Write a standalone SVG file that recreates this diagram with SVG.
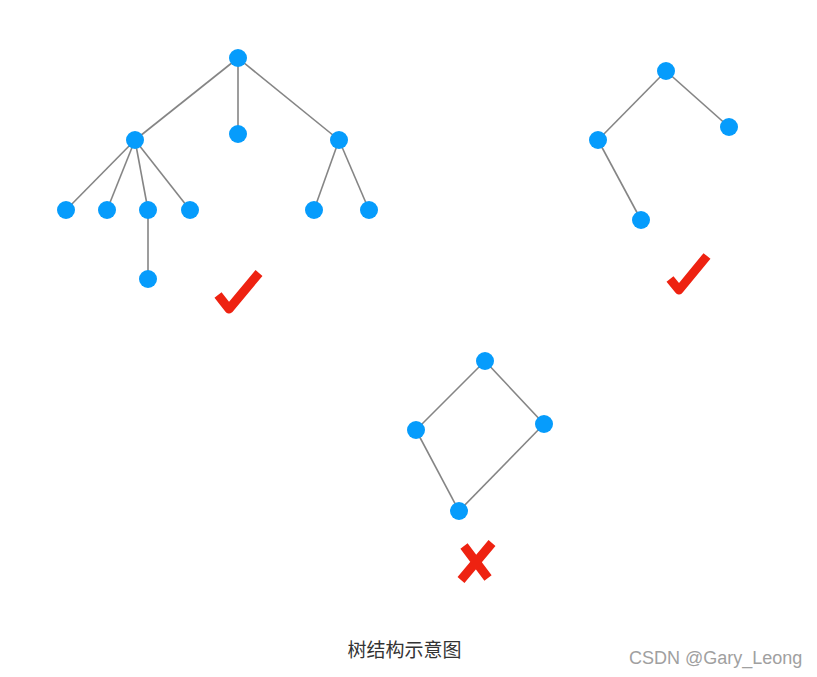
<svg xmlns="http://www.w3.org/2000/svg" width="817" height="677" viewBox="0 0 817 677">
<style>
.edge{stroke:#858585;stroke-width:1.6;fill:none}
.node{fill:#069cfc}
.mark{stroke:#ee2211;stroke-width:9;fill:none;stroke-linecap:butt;stroke-linejoin:round}
.caption{font-family:"Liberation Sans","Noto Sans CJK SC",sans-serif;font-size:19px;fill:#333}
.wm{font-family:"Liberation Sans",Arial,sans-serif;font-size:18px;fill:#a0a0a0}
</style>
<rect width="817" height="677" fill="#fff"/>
<g id="connectors">
<line class="edge" x1="238" y1="58" x2="135" y2="140"/>
<line class="edge" x1="238" y1="58" x2="238" y2="134"/>
<line class="edge" x1="238" y1="58" x2="339" y2="140"/>
<line class="edge" x1="135" y1="140" x2="66" y2="210"/>
<line class="edge" x1="135" y1="140" x2="107" y2="210"/>
<line class="edge" x1="135" y1="140" x2="148" y2="210"/>
<line class="edge" x1="135" y1="140" x2="190" y2="210"/>
<line class="edge" x1="148" y1="210" x2="148" y2="279"/>
<line class="edge" x1="339" y1="140" x2="314" y2="210"/>
<line class="edge" x1="339" y1="140" x2="369" y2="210"/>
<line class="edge" x1="666" y1="71" x2="598" y2="140"/>
<line class="edge" x1="666" y1="71" x2="729" y2="127"/>
<line class="edge" x1="598" y1="140" x2="641" y2="220"/>
<line class="edge" x1="485" y1="361" x2="416" y2="430"/>
<line class="edge" x1="485" y1="361" x2="544" y2="424"/>
<line class="edge" x1="416" y1="430" x2="459" y2="511"/>
<line class="edge" x1="544" y1="424" x2="459" y2="511"/>
</g>
<g id="n1"><circle class="node" cx="238" cy="58" r="9"/></g>
<g id="n2"><circle class="node" cx="135" cy="140" r="9"/></g>
<g id="n3"><circle class="node" cx="238" cy="134" r="9"/></g>
<g id="n4"><circle class="node" cx="339" cy="140" r="9"/></g>
<g id="n5"><circle class="node" cx="66" cy="210" r="9"/></g>
<g id="n6"><circle class="node" cx="107" cy="210" r="9"/></g>
<g id="n7"><circle class="node" cx="148" cy="210" r="9"/></g>
<g id="n8"><circle class="node" cx="190" cy="210" r="9"/></g>
<g id="n9"><circle class="node" cx="148" cy="279" r="9"/></g>
<g id="n10"><circle class="node" cx="314" cy="210" r="9"/></g>
<g id="n11"><circle class="node" cx="369" cy="210" r="9"/></g>
<g id="m1"><circle class="node" cx="666" cy="71" r="9"/></g>
<g id="m2"><circle class="node" cx="598" cy="140" r="9"/></g>
<g id="m3"><circle class="node" cx="729" cy="127" r="9"/></g>
<g id="m4"><circle class="node" cx="641" cy="220" r="9"/></g>
<g id="g1"><circle class="node" cx="485" cy="361" r="9"/></g>
<g id="g2"><circle class="node" cx="416" cy="430" r="9"/></g>
<g id="g3"><circle class="node" cx="544" cy="424" r="9"/></g>
<g id="g4"><circle class="node" cx="459" cy="511" r="9"/></g>
<g id="check1"><path class="mark" d="M218 295 L229 309 L259 273"/></g>
<g id="check2"><path class="mark" d="M670 279 L679 290 L707 256"/></g>
<g id="cross"><path class="mark" d="M464 546 L488 578 M492 543 L461 580"/></g>
<text class="caption" x="404.5" y="657" text-anchor="middle">树结构示意图</text>
<text class="wm" x="629" y="664">CSDN @Gary_Leong</text>
</svg>
